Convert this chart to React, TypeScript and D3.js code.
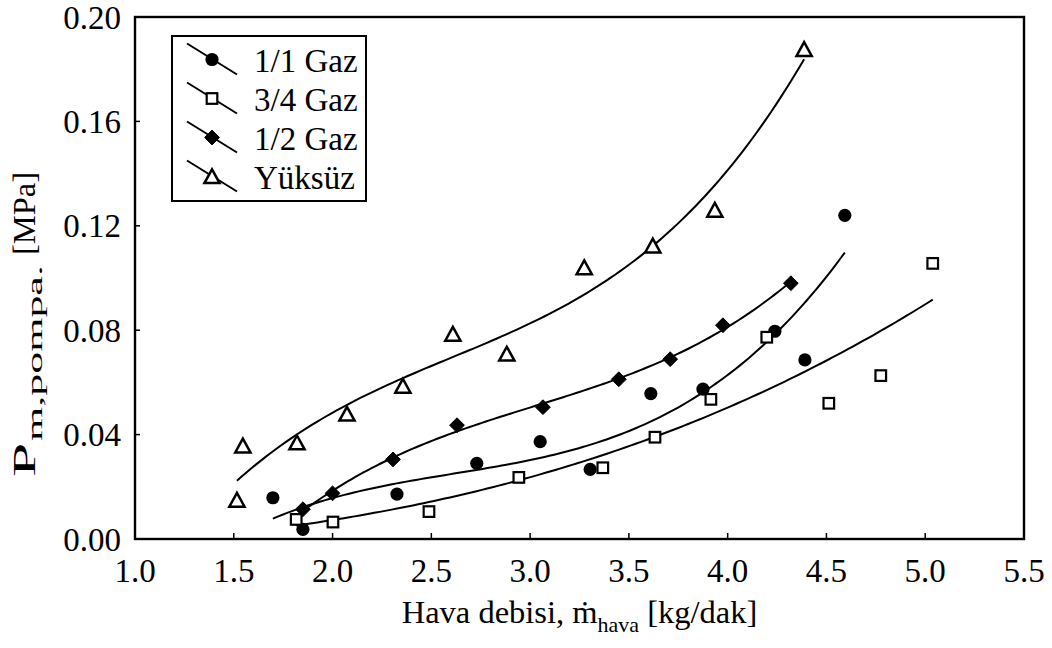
import React from "react";
import * as d3 from "d3";

const W = 1052;
const H = 648;

// Series names shown in the legend
const seriesNames = ["1/1 Gaz", "3/4 Gaz", "1/2 Gaz", "Yüksüz"];

// Measured points: air flow [kg/dak] and pump pressure [MPa]
const fullX = [1.698, 1.85, 2.326, 2.73, 3.051, 3.304, 3.611, 3.875, 4.239, 4.391, 4.593];
const fullY = [0.0158, 0.0037, 0.0172, 0.029, 0.0373, 0.0267, 0.0557, 0.0574, 0.0796, 0.0686, 0.124];

const threeQX = [1.816, 2.002, 2.488, 2.943, 3.368, 3.632, 3.915, 4.198, 4.512, 4.775, 5.038];
const threeQY = [0.0075, 0.0065, 0.0105, 0.0236, 0.0273, 0.039, 0.0535, 0.0773, 0.052, 0.0626, 0.1056];

const halfX = [1.85, 2.0, 2.306, 2.63, 3.065, 3.449, 3.709, 3.976, 4.32];
const halfY = [0.0114, 0.0175, 0.0305, 0.0436, 0.0505, 0.0612, 0.0689, 0.0819, 0.098];

const noLoadX = [1.516, 1.546, 1.82, 2.073, 2.356, 2.609, 2.882, 3.274, 3.621, 3.935, 4.387];
const noLoadY = [0.0149, 0.0357, 0.0369, 0.0479, 0.0586, 0.0785, 0.0709, 0.104, 0.1123, 0.126, 0.1876];

const xTicks = [1.0, 1.5, 2.0, 2.5, 3.0, 3.5, 4.0, 4.5, 5.0, 5.5];
const yTicks = [0.0, 0.04, 0.08, 0.12, 0.16, 0.2];

type Sym = "circle" | "square" | "diamond" | "triangle";
const symbols: Sym[] = ["circle", "square", "diamond", "triangle"];
const seriesX = [fullX, threeQX, halfX, noLoadX];
const seriesY = [fullY, threeQY, halfY, noLoadY];

// Third-order least-squares trend line
function cubicFit(xs: number[], ys: number[]) {
  const m = d3.mean(xs) as number;
  const n = 4;
  const A: number[][] = Array.from({ length: n }, () => new Array(n + 1).fill(0));
  xs.forEach((x0, k) => {
    const x = x0 - m;
    const p = [1, x, x * x, x * x * x];
    for (let i = 0; i < n; i++) {
      for (let j = 0; j < n; j++) A[i][j] += p[i] * p[j];
      A[i][n] += p[i] * ys[k];
    }
  });
  for (let c = 0; c < n; c++) {
    let piv = c;
    for (let r = c + 1; r < n; r++) if (Math.abs(A[r][c]) > Math.abs(A[piv][c])) piv = r;
    [A[c], A[piv]] = [A[piv], A[c]];
    for (let r = 0; r < n; r++) {
      if (r === c) continue;
      const f = A[r][c] / A[c][c];
      for (let k = c; k <= n; k++) A[r][k] -= f * A[c][k];
    }
  }
  const coef = A.map((row, i) => row[n] / row[i]);
  return (x0: number) => {
    const x = x0 - m;
    return coef[0] + coef[1] * x + coef[2] * x * x + coef[3] * x * x * x;
  };
}

const FONT = '"Liberation Serif", "Times New Roman", Times, serif';

function Marker({ type, cx, cy }: { type: Sym; cx: number; cy: number }) {
  if (type === "circle") return <circle cx={cx} cy={cy} r={6.6} fill="#000" />;
  if (type === "square")
    return <rect x={cx - 5.3} y={cy - 5.3} width={10.6} height={10.6} fill="#fff" stroke="#000" strokeWidth={2.2} />;
  if (type === "diamond")
    return (
      <path
        d={`M${cx},${cy - 7.4}L${cx + 7.4},${cy}L${cx},${cy + 7.4}L${cx - 7.4},${cy}Z`}
        fill="#000"
        stroke="#000"
        strokeWidth={1}
        strokeLinejoin="round"
      />
    );
  return (
    <path
      d={`M${cx},${cy - 7.2}L${cx + 7.6},${cy + 6.6}L${cx - 7.6},${cy + 6.6}Z`}
      fill="#fff"
      stroke="#000"
      strokeWidth={2.5}
      strokeLinejoin="miter"
    />
  );
}

export default function App() {
  const left = 135;
  const right = 1024;
  const top = 17;
  const bottom = 539;
  const x = d3.scaleLinear().domain([1, 5.5]).range([left, right]);
  const y = d3.scaleLinear().domain([0, 0.2]).range([bottom, top]);

  const line = d3
    .line<[number, number]>()
    .x((d) => x(d[0]))
    .y((d) => y(d[1]));

  const trends = seriesX.map((xs, i) => {
    const f = cubicFit(xs, seriesY[i]);
    const [x0, x1] = d3.extent(xs) as [number, number];
    const pts: [number, number][] = d3.range(0, 121).map((k) => {
      const xv = x0 + ((x1 - x0) * k) / 120;
      return [xv, f(xv)];
    });
    return line(pts) as string;
  });

  const legX = 172;
  const legY = 36;
  const rowY = (i: number) => legY + 23.5 + i * 39;
  const txt = { fontFamily: FONT };

  return (
    <svg width={W} height={H} style={{ position: "absolute", left: 0, top: 0, background: "#fff", fontFamily: FONT }}>
      <rect x={0} y={0} width={W} height={H} fill="#fff" />

      {/* trend lines */}
      {trends.map((d, i) => (
        <path key={`t${i}`} d={d} fill="none" stroke="#000" strokeWidth={2} />
      ))}

      {/* measured points */}
      {seriesX.map((xs, i) =>
        xs.map((xv, k) => <Marker key={`m${i}-${k}`} type={symbols[i]} cx={x(xv)} cy={y(seriesY[i][k])} />)
      )}

      {/* frame */}
      <rect x={left} y={top} width={right - left} height={bottom - top} fill="none" stroke="#000" strokeWidth={2.4} />

      {/* x ticks */}
      {xTicks.map((t) => (
        <g key={`xt${t}`}>
          <line x1={x(t)} x2={x(t)} y1={bottom} y2={bottom - 6} stroke="#000" strokeWidth={1.5} />
          <text x={x(t)} y={582} textAnchor="middle" fontSize={33} fill="#000" style={txt}>
            {t.toFixed(1)}
          </text>
        </g>
      ))}

      {/* y ticks */}
      {yTicks.map((t) => (
        <g key={`yt${t}`}>
          <line x1={left} x2={left + 5} y1={y(t)} y2={y(t)} stroke="#000" strokeWidth={1.5} />
          <text x={121} y={y(t) + 11.5} textAnchor="end" fontSize={33} fill="#000" style={txt}>
            {t.toFixed(2)}
          </text>
        </g>
      ))}

      {/* x axis title */}
      <text x={(left + right) / 2} y={623} textAnchor="middle" fontSize={32.5} fill="#000" style={txt}>
        Hava debisi, ṁ
        <tspan fontSize={22} dy={9}>
          hava
        </tspan>
        <tspan dy={-9}> [kg/dak]</tspan>
      </text>

      {/* y axis title (rotated; symbol and subscript widened) */}
      <g transform="translate(35,477) rotate(-90)">
        <text x={0} y={0} fontSize={32.5} fill="#000" style={txt} transform="scale(1.9,1)">
          P
        </text>
        <text x={0} y={7} fontSize={22} fill="#000" style={txt} transform="translate(36,0) scale(2,1)">
          m,pompa.
        </text>
        <text x={222} y={0} fontSize={32.5} fill="#000" style={txt}>
          [MPa]
        </text>
      </g>

      {/* legend */}
      <rect x={legX} y={legY} width={194} height={165} fill="#fff" stroke="#000" strokeWidth={2} />
      {seriesNames.map((name, i) => {
        const cy = rowY(i);
        return (
          <g key={`lg${i}`}>
            <line x1={187} y1={cy - 16} x2={237} y2={cy + 15} stroke="#000" strokeWidth={2} />
            <Marker type={symbols[i]} cx={212} cy={cy} />
            <text x={254} y={cy + 12} fontSize={33} fill="#000" style={txt}>
              {name}
            </text>
          </g>
        );
      })}
    </svg>
  );
}
